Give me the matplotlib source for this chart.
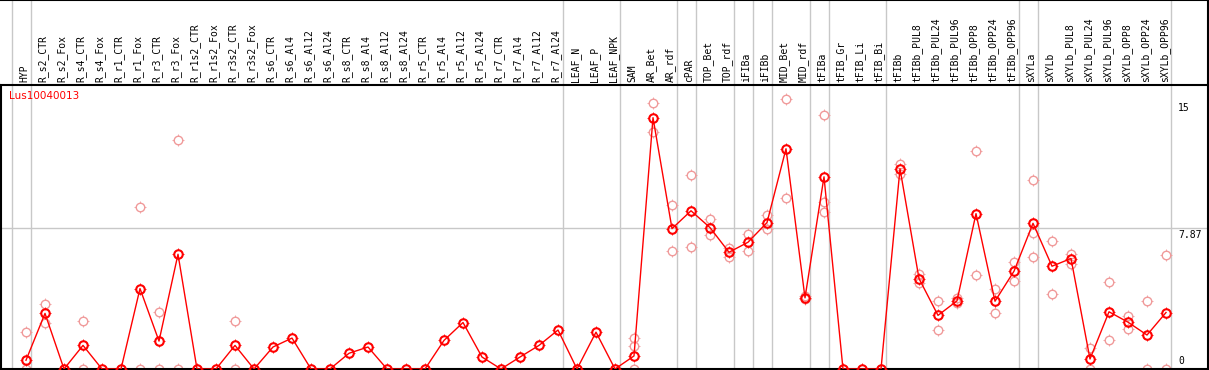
import numpy as np
import matplotlib.pyplot as plt
from matplotlib.path import Path

nan = np.nan

gene = 'Lus10040013'

labels = [
    'HYP',
    'R_s2_CTR', 'R_s2_Fox', 'R_s4_CTR', 'R_s4_Fox', 'R_r1_CTR', 'R_r1_Fox',
    'R_r3_CTR', 'R_r3_Fox', 'R_r1s2_CTR', 'R_r1s2_Fox', 'R_r3s2_CTR', 'R_r3s2_Fox',
    'R_s6_CTR', 'R_s6_Al4', 'R_s6_Al12', 'R_s6_Al24',
    'R_s8_CTR', 'R_s8_Al4', 'R_s8_Al12', 'R_s8_Al24',
    'R_r5_CTR', 'R_r5_Al4', 'R_r5_Al12', 'R_r5_Al24',
    'R_r7_CTR', 'R_r7_Al4', 'R_r7_Al12', 'R_r7_Al24',
    'LEAF_N', 'LEAF_P', 'LEAF_NPK',
    'SAM', 'AR_Bet', 'AR_rdf',
    'cPAR',
    'TOP_Bet', 'TOP_rdf',
    'iFIBa',
    'iFIBb',
    'MID_Bet', 'MID_rdf',
    'tFIBa',
    'tFIB_Gr', 'tFIB_Li', 'tFIB_Bi',
    'tFIBb', 'tFIBb_PUL8', 'tFIBb_PUL24', 'tFIBb_PUL96',
    'tFIBb_OPP8', 'tFIBb_OPP24', 'tFIBb_OPP96',
    'sXYLa',
    'sXYLb', 'sXYLb_PUL8', 'sXYLb_PUL24', 'sXYLb_PUL96',
    'sXYLb_OPP8', 'sXYLb_OPP24', 'sXYLb_OPP96',
]

# index of the last sample in every group (-1 = start)
group_ends = [-1, 0, 28, 31, 34, 35, 37, 38, 39, 41, 42, 45, 52, 53, 60]

means = [
    0.49,
    3.11, 0, 1.32, 0, 0, 4.5, 1.56, 6.42, 0, 0, 1.32, 0,
    1.23, 1.73, 0, 0,
    0.88, 1.23, 0, 0,
    0, 1.6, 2.6, 0.67,
    0, 0.67, 1.32, 2.18,
    0, 2.06, 0,
    0.73, 14.06, 7.85,
    8.85,
    7.91, 6.53,
    7.09,
    8.19,
    12.32, 3.98,
    10.75,
    0, 0, 0,
    11.2, 5.06, 3.0, 3.81, 8.69, 3.79, 5.47,
    8.15,
    5.75, 6.18, 0.56, 3.2, 2.62, 1.9, 3.16,
]

rep_a = [
    2.05,
    3.61, nan, 2.68, nan, nan, 9.08, 3.18, 12.8, nan, nan, 2.68, nan,
    nan, nan, nan, nan,
    nan, nan, nan, nan,
    nan, nan, nan, nan,
    nan, nan, nan, nan,
    nan, nan, nan,
    1.75, 14.88, 9.15,
    10.86,
    8.37, 6.77,
    7.53,
    8.59,
    15.1, 4.1,
    14.23,
    nan, nan, nan,
    11.48, 5.3, 3.79, 3.95, 12.17, 4.5, 5.97,
    10.55,
    7.18, 6.46, 1.19, 4.84, 2.94, 3.83, 6.4,
]

rep_b = [
    0,
    2.58, nan, 0, nan, nan, 0, 0, 0, nan, nan, 0, nan,
    nan, nan, nan, nan,
    nan, nan, nan, nan,
    nan, nan, nan, nan,
    nan, nan, nan, nan,
    nan, nan, nan,
    1.28, 13.28, 6.58,
    6.8,
    7.51, 6.29,
    6.58,
    7.85,
    9.54, 3.9,
    9.34,
    nan, nan, nan,
    10.92, 4.82, 2.18, 3.7, 5.23, 3.11, 4.95,
    7.61,
    4.22, 5.86, 0, 1.6, 2.25, 0, 0,
]

rep_c = [nan] * 61
rep_c[32] = 0      # SAM
rep_c[42] = 8.76   # tFIBa
rep_c[53] = 6.25   # sXYLa

y_ticks = [15, 7.87, 0]

# ---- geometry (pixels) ----
W, H = 1209, 370
top_px, bot_px = 85, 369
x0_px, dx_px = 26, 19
left_px, right_px = 0.5, 1208
px_per_unit = (369 - 228.3) / 7.87

xlim = ((left_px - x0_px) / dx_px, (right_px - x0_px) / dx_px)
ylim = (0, (bot_px - top_px) / px_per_unit)

# four short ticks around the circle
ticks = Path([(0, 1), (0, 1.3), (0, -1), (0, -1.3), (1, 0), (1.3, 0), (-1, 0), (-1.3, 0)],
             [Path.MOVETO, Path.LINETO] * 4)
circ_ms = 8.5 * 0.72
tick_ms = circ_ms * 1.3

fig = plt.figure(figsize=(W / 100, H / 100), dpi=100)
ax = fig.add_axes([left_px / W, (H - bot_px) / H, (right_px - left_px) / W, (bot_px - top_px) / H])
hax = fig.add_axes([left_px / W, (H - top_px) / H, (right_px - left_px) / W, top_px / H])

x = np.arange(len(labels))
grey = '#c8c8c8'

for g in group_ends:
    ax.axvline(g + 0.25, color=grey, lw=1, zorder=1)
    hax.axvline(g + 0.25, color=grey, lw=1, zorder=1)
ax.axhline(7.87, color=grey, lw=1, zorder=1)


def dots(y, color, mew, z):
    ax.plot(x, y, ls='none', marker='o', ms=circ_ms, mfc='none', mec=color, mew=mew, zorder=z)
    ax.plot(x, y, ls='none', marker=ticks, ms=tick_ms, mfc='none', mec=color, mew=0.6, zorder=z)


pink = '#f09a9a'
for reps in (rep_a, rep_b, rep_c):
    dots(reps, pink, 1.0, 2)

ax.plot(x, means, color='#ff0000', lw=1.0, zorder=3)
dots(means, '#ff0000', 1.5, 4)

ax.set_xlim(*xlim)
ax.set_ylim(*ylim)
ax.set_xticks([])
ax.set_yticks([])
ax.spines['top'].set_visible(False)
for s in ('left', 'bottom', 'right'):
    ax.spines[s].set_linewidth(1.5)

# value labels on the right
tx = (1178 - x0_px) / dx_px
for v in y_ticks:
    va = 'bottom' if v == 0 else 'top'
    ax.text(tx, v + (0.15 if v == 0 else -0.1), str(v), ha='left', va=va,
            fontsize=7, family='DejaVu Sans Mono', color='black')

ax.text((9 - x0_px) / dx_px, ylim[1] - 0.35, gene, color='#ff0000', fontsize=7.5,
        family='DejaVu Sans', ha='left', va='top')

# header with sample names
hax.set_xlim(*xlim)
hax.set_ylim(0, top_px)
hax.set_xticks([])
hax.set_yticks([])
hax.spines['left'].set_visible(False)
for s in ('top', 'bottom', 'right'):
    hax.spines[s].set_linewidth(1.5)
for i, lab in enumerate(labels):
    hax.text(i - 0.1, 2.5, lab, rotation=90, ha='center', va='bottom',
             fontsize=7, family='DejaVu Sans Mono', color='black')

fig.savefig('out.png', dpi=100)
